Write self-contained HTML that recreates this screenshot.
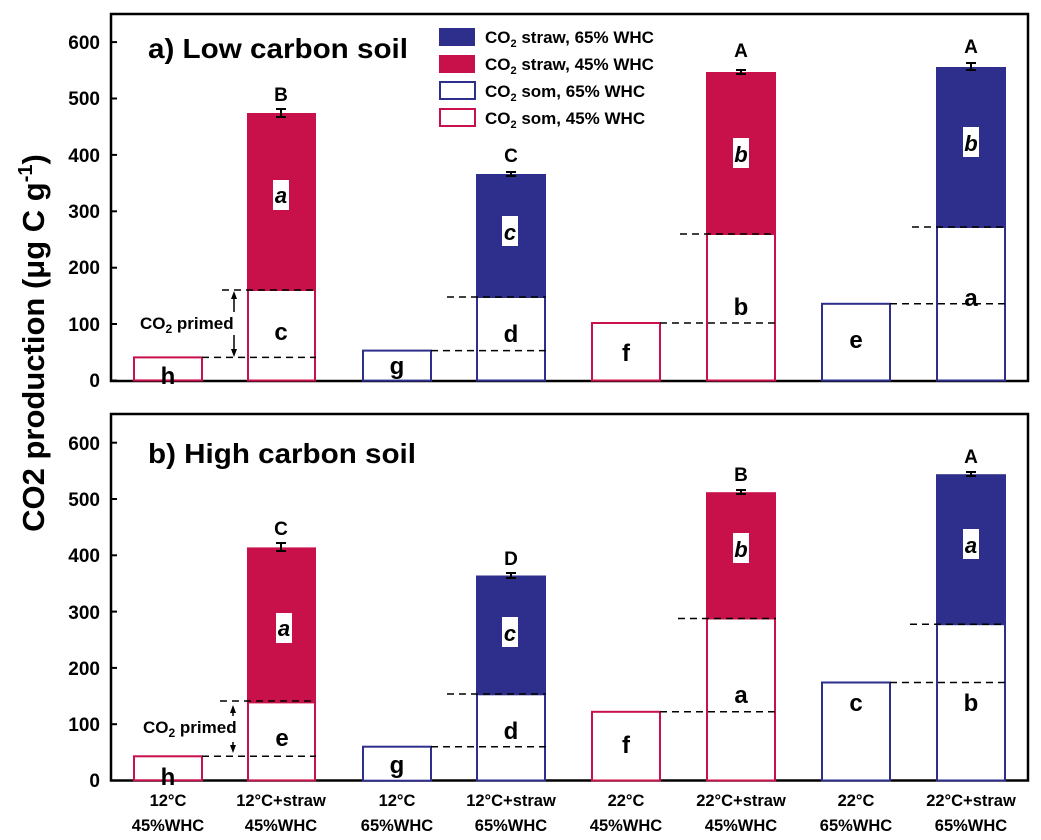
<!DOCTYPE html>
<html><head><meta charset="utf-8"><style>
html,body{margin:0;padding:0;background:#fff;}
svg{display:block;font-family:"Liberation Sans",Arial,sans-serif;font-weight:bold;}
</style></head><body>
<svg width="1041" height="840" viewBox="0 0 1041 840" xmlns="http://www.w3.org/2000/svg">
<defs>
<style>
.tk{font-size:19px;text-anchor:end;}
.lt{font-size:24px;text-anchor:middle;}
.it{font-size:22px;text-anchor:middle;font-style:italic;}
.up{font-size:19px;text-anchor:middle;}
.xl{font-size:16.5px;text-anchor:middle;}
.dash{stroke:#000;stroke-width:1.5;stroke-dasharray:7,5;fill:none;}
</style>
</defs>

<text transform="translate(44,343) rotate(-90)" font-size="31" text-anchor="middle">CO2 production (μg C g<tspan font-size="20" dy="-12">-1</tspan><tspan dy="12">)</tspan></text>

<!-- ================= Panel A ================= -->
<g>
<rect x="111" y="14" width="917" height="367" fill="none" stroke="#000" stroke-width="2.5"/>
<g stroke="#000" stroke-width="2">
<line x1="111" y1="380.5" x2="117" y2="380.5"/><line x1="111" y1="324" x2="117" y2="324"/><line x1="111" y1="267.7" x2="117" y2="267.7"/><line x1="111" y1="211.3" x2="117" y2="211.3"/><line x1="111" y1="154.9" x2="117" y2="154.9"/><line x1="111" y1="98.5" x2="117" y2="98.5"/><line x1="111" y1="42.1" x2="117" y2="42.1"/>
</g>
<text class="tk" x="100" y="387">0</text><text class="tk" x="100" y="331">100</text><text class="tk" x="100" y="274">200</text><text class="tk" x="100" y="218">300</text><text class="tk" x="100" y="162">400</text><text class="tk" x="100" y="105">500</text><text class="tk" x="100" y="49">600</text>
<text x="148" y="58" font-size="28" textLength="260" lengthAdjust="spacingAndGlyphs">a) Low carbon soil</text>

<rect x="439" y="28" width="36" height="18" fill="#2e2e8c"/>
<rect x="439" y="55" width="36" height="18" fill="#c8104a"/>
<rect x="440" y="82" width="35" height="17" fill="#fff" stroke="#2e2e8c" stroke-width="2"/>
<rect x="440" y="109" width="35" height="17" fill="#fff" stroke="#c8104a" stroke-width="2"/>
<g font-size="17">
<text x="485" y="43">CO<tspan font-size="11" dy="4">2</tspan><tspan dy="-4"> straw, 65% WHC</tspan></text>
<text x="485" y="70">CO<tspan font-size="11" dy="4">2</tspan><tspan dy="-4"> straw, 45% WHC</tspan></text>
<text x="485" y="97">CO<tspan font-size="11" dy="4">2</tspan><tspan dy="-4"> som, 65% WHC</tspan></text>
<text x="485" y="124">CO<tspan font-size="11" dy="4">2</tspan><tspan dy="-4"> som, 45% WHC</tspan></text>
</g>

<rect x="134" y="357.4" width="68" height="23" fill="#fff" stroke="#c8104a" stroke-width="2"/>
<rect x="247" y="113" width="69" height="177" fill="#c8104a"/>
<rect x="248" y="290" width="67" height="90.5" fill="#fff" stroke="#c8104a" stroke-width="2"/>
<rect x="363" y="350.6" width="68" height="30" fill="#fff" stroke="#2e2e8c" stroke-width="2"/>
<rect x="476" y="174" width="70" height="123" fill="#2e2e8c"/>
<rect x="477" y="297" width="68" height="83.5" fill="#fff" stroke="#2e2e8c" stroke-width="2"/>
<rect x="592" y="323" width="68" height="57.5" fill="#fff" stroke="#c8104a" stroke-width="2"/>
<rect x="706" y="72" width="70" height="162" fill="#c8104a"/>
<rect x="707" y="234" width="68" height="146.5" fill="#fff" stroke="#c8104a" stroke-width="2"/>
<rect x="822" y="303.8" width="68" height="76.7" fill="#fff" stroke="#2e2e8c" stroke-width="2"/>
<rect x="936" y="67" width="70" height="160" fill="#2e2e8c"/>
<rect x="937" y="227" width="68" height="153.5" fill="#fff" stroke="#2e2e8c" stroke-width="2"/>

<g stroke="#000" stroke-width="2">
<line x1="281" y1="109" x2="281" y2="117"/><line x1="276" y1="109" x2="286" y2="109"/><line x1="276" y1="117" x2="286" y2="117"/>
<line x1="511" y1="172" x2="511" y2="176"/><line x1="506" y1="172" x2="516" y2="172"/><line x1="506" y1="176" x2="516" y2="176"/>
<line x1="741" y1="70" x2="741" y2="74"/><line x1="736" y1="70" x2="746" y2="70"/><line x1="736" y1="74" x2="746" y2="74"/>
<line x1="971" y1="63" x2="971" y2="70"/><line x1="966" y1="63" x2="976" y2="63"/><line x1="966" y1="70" x2="976" y2="70"/>
</g>

<line class="dash" x1="202" y1="357.4" x2="316" y2="357.4"/>
<line class="dash" x1="222" y1="290" x2="316" y2="290"/>
<line class="dash" x1="431" y1="350.6" x2="546" y2="350.6"/>
<line class="dash" x1="447" y1="297" x2="546" y2="297"/>
<line class="dash" x1="660" y1="323" x2="776" y2="323"/>
<line class="dash" x1="680" y1="234" x2="776" y2="234"/>
<line class="dash" x1="890" y1="303.8" x2="1005" y2="303.8"/>
<line class="dash" x1="912" y1="227" x2="1005" y2="227"/>

<g stroke="#000" stroke-width="1.5"><line x1="234" y1="294" x2="234" y2="312"/><line x1="234" y1="335" x2="234" y2="354"/></g>
<polygon points="234,291 231,299 237,299" fill="#000"/><polygon points="234,357 231,349 237,349" fill="#000"/>
<text x="140" y="329" font-size="17">CO<tspan font-size="12" dy="4">2</tspan><tspan dy="-4"> primed</tspan></text>

<text class="up" x="281" y="101">B</text><text class="up" x="511" y="162">C</text><text class="up" x="741" y="57">A</text><text class="up" x="971" y="53">A</text>
<rect x="273" y="180" width="16" height="30" fill="#fff"/><text class="it" x="281" y="203">a</text>
<rect x="502" y="216" width="16" height="30" fill="#fff"/><text class="it" x="510" y="240">c</text>
<rect x="733" y="138" width="16" height="30" fill="#fff"/><text class="it" x="741" y="162">b</text>
<rect x="963" y="127" width="16" height="30" fill="#fff"/><text class="it" x="971" y="151">b</text>
<text class="lt" x="168" y="384">h</text><text class="lt" x="281" y="340">c</text><text class="lt" x="397" y="374">g</text><text class="lt" x="511" y="342">d</text>
<text class="lt" x="626" y="361">f</text><text class="lt" x="741" y="315">b</text><text class="lt" x="856" y="348">e</text><text class="lt" x="971" y="306">a</text>
</g>

<!-- ================= Panel B ================= -->
<g>
<rect x="111" y="414" width="917" height="366.5" fill="none" stroke="#000" stroke-width="2.5"/>
<g stroke="#000" stroke-width="2">
<line x1="111" y1="724.2" x2="117" y2="724.2"/><line x1="111" y1="667.9" x2="117" y2="667.9"/><line x1="111" y1="611.6" x2="117" y2="611.6"/><line x1="111" y1="555.3" x2="117" y2="555.3"/><line x1="111" y1="499" x2="117" y2="499"/><line x1="111" y1="442.7" x2="117" y2="442.7"/>
</g>
<text class="tk" x="100" y="787">0</text><text class="tk" x="100" y="731">100</text><text class="tk" x="100" y="675">200</text><text class="tk" x="100" y="619">300</text><text class="tk" x="100" y="562">400</text><text class="tk" x="100" y="506">500</text><text class="tk" x="100" y="450">600</text>
<text x="148" y="463" font-size="28" textLength="268" lengthAdjust="spacingAndGlyphs">b) High carbon soil</text>

<rect x="134" y="756.3" width="68" height="24" fill="#fff" stroke="#c8104a" stroke-width="2"/>
<rect x="247" y="547.4" width="69" height="155" fill="#c8104a"/>
<rect x="248" y="702.4" width="67" height="78" fill="#fff" stroke="#c8104a" stroke-width="2"/>
<rect x="363" y="746.7" width="68" height="34" fill="#fff" stroke="#2e2e8c" stroke-width="2"/>
<rect x="476" y="575.5" width="70" height="118.8" fill="#2e2e8c"/>
<rect x="477" y="694.3" width="68" height="86.2" fill="#fff" stroke="#2e2e8c" stroke-width="2"/>
<rect x="592" y="711.8" width="68" height="68.7" fill="#fff" stroke="#c8104a" stroke-width="2"/>
<rect x="706" y="492.2" width="70" height="126.3" fill="#c8104a"/>
<rect x="707" y="618.5" width="68" height="162" fill="#fff" stroke="#c8104a" stroke-width="2"/>
<rect x="822" y="682.5" width="68" height="98" fill="#fff" stroke="#2e2e8c" stroke-width="2"/>
<rect x="936" y="474.2" width="70" height="150" fill="#2e2e8c"/>
<rect x="937" y="624.2" width="68" height="156.3" fill="#fff" stroke="#2e2e8c" stroke-width="2"/>

<g stroke="#000" stroke-width="2">
<line x1="281" y1="543" x2="281" y2="551"/><line x1="276" y1="543" x2="286" y2="543"/><line x1="276" y1="551" x2="286" y2="551"/>
<line x1="511" y1="573" x2="511" y2="578"/><line x1="506" y1="573" x2="516" y2="573"/><line x1="506" y1="578" x2="516" y2="578"/>
<line x1="741" y1="490" x2="741" y2="494"/><line x1="736" y1="490" x2="746" y2="490"/><line x1="736" y1="494" x2="746" y2="494"/>
<line x1="971" y1="472" x2="971" y2="476"/><line x1="966" y1="472" x2="976" y2="472"/><line x1="966" y1="476" x2="976" y2="476"/>
</g>

<line class="dash" x1="202" y1="756.3" x2="316" y2="756.3"/>
<line class="dash" x1="220" y1="701" x2="316" y2="701"/>
<line class="dash" x1="431" y1="746.7" x2="546" y2="746.7"/>
<line class="dash" x1="447" y1="694" x2="546" y2="694"/>
<line class="dash" x1="660" y1="711.8" x2="776" y2="711.8"/>
<line class="dash" x1="678" y1="618.5" x2="776" y2="618.5"/>
<line class="dash" x1="890" y1="682.5" x2="1005" y2="682.5"/>
<line class="dash" x1="910" y1="624.2" x2="1005" y2="624.2"/>

<g stroke="#000" stroke-width="1.5"><line x1="233" y1="707" x2="233" y2="716"/><line x1="233" y1="742" x2="233" y2="750"/></g>
<polygon points="233,705 230,713 236,713" fill="#000"/><polygon points="233,753 230,745 236,745" fill="#000"/>
<text x="143" y="733" font-size="17">CO<tspan font-size="12" dy="4">2</tspan><tspan dy="-4"> primed</tspan></text>

<text class="up" x="281" y="535">C</text><text class="up" x="511" y="565">D</text><text class="up" x="741" y="481">B</text><text class="up" x="971" y="463">A</text>
<rect x="276" y="613" width="16" height="30" fill="#fff"/><text class="it" x="284" y="636">a</text>
<rect x="502" y="617" width="16" height="30" fill="#fff"/><text class="it" x="510" y="641">c</text>
<rect x="733" y="533" width="16" height="30" fill="#fff"/><text class="it" x="741" y="557">b</text>
<rect x="963" y="529" width="16" height="30" fill="#fff"/><text class="it" x="971" y="553">a</text>
<text class="lt" x="168" y="785">h</text><text class="lt" x="282" y="746">e</text><text class="lt" x="397" y="773">g</text><text class="lt" x="511" y="739">d</text>
<text class="lt" x="626" y="753">f</text><text class="lt" x="741" y="703">a</text><text class="lt" x="856" y="711">c</text><text class="lt" x="971" y="711">b</text>
</g>

<g>
<text class="xl" x="168" y="806">12°C</text><text class="xl" x="168" y="831">45%WHC</text>
<text class="xl" x="281" y="806">12°C+straw</text><text class="xl" x="281" y="831">45%WHC</text>
<text class="xl" x="397" y="806">12°C</text><text class="xl" x="397" y="831">65%WHC</text>
<text class="xl" x="511" y="806">12°C+straw</text><text class="xl" x="511" y="831">65%WHC</text>
<text class="xl" x="626" y="806">22°C</text><text class="xl" x="626" y="831">45%WHC</text>
<text class="xl" x="741" y="806">22°C+straw</text><text class="xl" x="741" y="831">45%WHC</text>
<text class="xl" x="856" y="806">22°C</text><text class="xl" x="856" y="831">65%WHC</text>
<text class="xl" x="971" y="806">22°C+straw</text><text class="xl" x="971" y="831">65%WHC</text>
</g>
</svg>
</body></html>
